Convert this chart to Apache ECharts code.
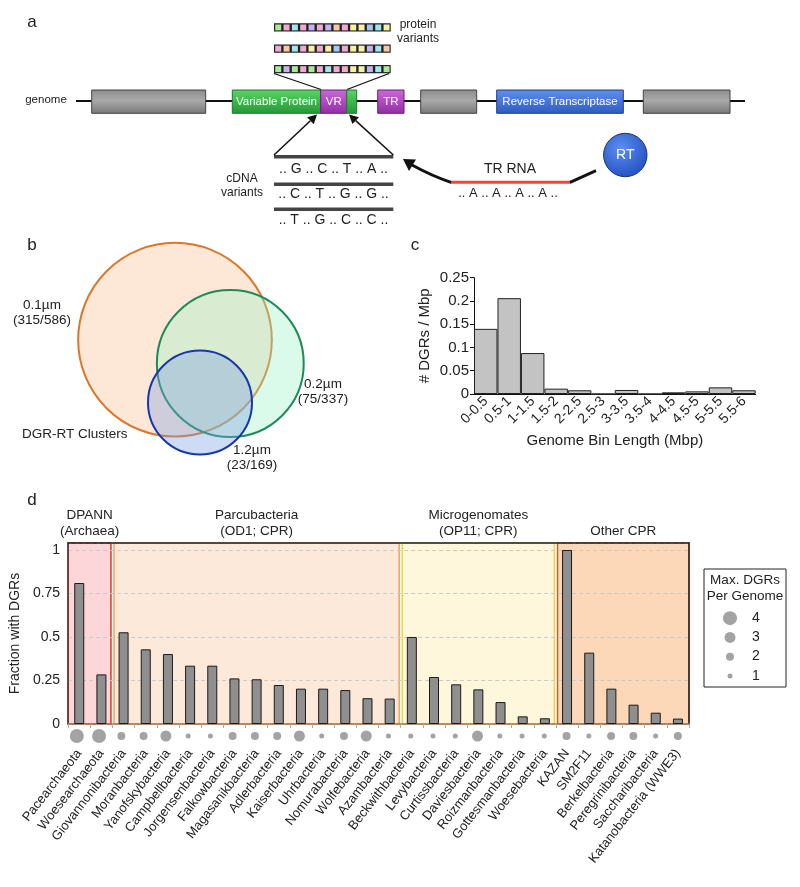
<!DOCTYPE html>
<html><head><meta charset="utf-8">
<script src="https://cdn.jsdelivr.net/npm/echarts@6/dist/echarts.min.js"></script>
<style>html,body{margin:0;padding:0;background:#fff}#c{width:800px;height:887px}</style>
</head><body><div id="c"></div>
<script>
// ---------- DATA ----------
const binLabels = ['0-0.5','0.5-1','1-1.5','1.5-2','2-2.5','2.5-3','3-3.5','3.5-4','4-4.5','4.5-5','5-5.5','5.5-6'];
const dgrPerMbp = [0.140, 0.206, 0.088, 0.0115, 0.008, 0, 0.0086, 0, 0.0036, 0.0057, 0.0143, 0.008];
const yTicksC = [0, 0.05, 0.1, 0.15, 0.2, 0.25];

const taxa = ['Pacearchaeota','Woesearchaeota','Giovannonibacteria','Moranbacteria','Yanofskybacteria','Campbellbacteria','Jorgensenbacteria','Falkowbacteria','Magasanikbacteria','Adlerbacteria','Kaiserbacteria','Uhrbacteria','Nomurabacteria','Wolfebacteria','Azambacteria','Beckwithbacteria','Levybacteria','Curtissbacteria','Daviesbacteria','Roizmanbacteria','Gottesmanbacteria','Woesebacteria','KAZAN','SM2F11','Berkelbacteria','Peregrinibacteria','Saccharibacteria','Katanobacteria (WWE3)'];
const fractionWithDGRs = [0.81, 0.285, 0.527, 0.429, 0.402, 0.335, 0.335, 0.262, 0.257, 0.224, 0.203, 0.203, 0.195, 0.148, 0.146, 0.5, 0.27, 0.228, 0.199, 0.126, 0.044, 0.033, 1.0, 0.41, 0.203, 0.111, 0.065, 0.031];
const maxDGRsPerGenome = [4,4,2,2,3,1,1,2,2,2,3,1,2,3,1, 1,1,1,3,1,1,1, 2,1,2,2,1,2];
const groupNames = ['DPANN\n(Archaea)','Parcubacteria\n(OD1; CPR)','Microgenomates\n(OP11; CPR)','Other CPR'];
const groupSizes = [2, 13, 7, 6];
const yTicksD = [0, 0.25, 0.5, 0.75, 1];
const legendValues = ['1','2','3','4'];

const vennNames = ['0.1µm','0.2µm','1.2µm'];
const vennShared = [315, 75, 23];
const vennTotal = [586, 337, 169];

// ---------- STYLE / LAYOUT ----------
const FONT = 'Arial, "Liberation Sans", Helvetica, sans-serif';
const groupFill = ['#fdd6da','#fde9da','#fff7dc','#fdd8b8'];
const groupStroke = ['#e2332a','#f2a552','#f3d046','#b5692b'];
const vennCenter = [[175,109.7],[230.3,133.5],[200,172.5]];
const vennStroke = ['#d9782a','#1e8a57','#1737a8'];
const vennFill = ['rgba(250,190,140,0.35)','rgba(150,240,195,0.35)','rgba(125,160,230,0.38)'];
const vennLabelPos = [[42,313,'center'],[323,392,'center'],[252,458,'center']];
const dotSize = v => 3*v + 2;

const chart = echarts.init(document.getElementById('c'), null, {renderer:'canvas'});

// group extents from sizes
const cum=[0]; groupSizes.forEach(s=>cum.push(cum[cum.length-1]+s));
const inset=0.07;
const groupRects = groupSizes.map((s,i)=>[cum[i]+(i>0?inset:0), cum[i+1]-(i<groupSizes.length-1?inset:0), i]);

// ---------- PANEL A (schematic) ----------
const G = [];
function txt(x,y,s,opt){G.push(Object.assign({type:'text',x,y,style:Object.assign({text:s,fill:'#222',font:'13px '+FONT,align:'center',verticalAlign:'middle'},opt||{})}));}
function grad(c1,c2,c3){return new echarts.graphic.LinearGradient(0,0,0,1,[{offset:0,color:c1},{offset:0.45,color:c2},{offset:1,color:c3}]);}
function box(x1,x2,fill,stroke,label,fs){
  G.push({type:'rect',shape:{x:x1,y:90,width:x2-x1,height:23.3},style:{fill:fill,stroke:stroke,lineWidth:1}});
  if(label) txt((x1+x2)/2,101.5,label,{fill:'#fff',font:(fs||11)+'px '+FONT});
}
txt(32,22,'a',{font:'17px '+FONT});
txt(46,100,'genome',{font:'11.5px '+FONT});
G.push({type:'line',shape:{x1:76,y1:101,x2:745,y2:101},style:{stroke:'#111',lineWidth:2}});
const gray = ()=>grad('#8c8c8c','#a9a9a9','#777');
const green = ()=>grad('#5fd36a','#3fbb4c','#26963a');
const purple = ()=>grad('#c86ad6','#b34ec4','#8f2ea3');
const blue = ()=>grad('#5f8fea','#4a78dc','#2d5bbd');
box(91.7,205.7,gray(),'#444');
box(232.3,320.7,green(),'#1d7a2e','Variable Protein',11.5);
box(320.7,346.7,purple(),'#6a1f7a','VR',11.5);
box(346.7,356.7,green(),'#1d7a2e');
box(377.7,404,purple(),'#6a1f7a','TR',11.5);
box(420.7,476.7,gray(),'#444');
box(496.7,623.3,blue(),'#1f3f8f','Reverse Transcriptase',11.5);
box(643.3,730,gray(),'#444');
// protein variants
const sq = {g:'#a9e896',p:'#f4a9d2',c:'#a2e7f0',u:'#c4b2f2',o:'#f8c9a2',y:'#f7f1a3',b:'#a9c6f2'};
const rows = [['g','p','c','p','u','p','u','o','p','y','y','b','c','y'],
              ['p','o','c','p','y','p','y','b','p','y','y','u','c','o'],
              ['g','u','g','p','g','p','c','p','p','y','y','u','c','g']];
const rowY=[23.3,44.5,65];
rows.forEach((r,ri)=>{
  G.push({type:'rect',shape:{x:274,y:rowY[ri],width:116.7,height:8.3},style:{fill:'#222'}});
  r.forEach((k,i)=>{G.push({type:'rect',shape:{x:274+i*8.336+1.2,y:rowY[ri]+1.2,width:6,height:5.9},style:{fill:sq[k]}});});
});
G.push({type:'line',shape:{x1:274,y1:73.5,x2:321,y2:89.5},style:{stroke:'#111',lineWidth:1.3}});
G.push({type:'line',shape:{x1:389,y1:73.5,x2:347,y2:89.5},style:{stroke:'#111',lineWidth:1.3}});
txt(418,25,'protein',{font:'12px '+FONT});
txt(418,39,'variants',{font:'12px '+FONT});
// cDNA
[155,182.5,207.5].forEach(y=>G.push({type:'rect',shape:{x:274,y:y,width:119.3,height:3.4},style:{fill:'#444'}}));
txt(333.5,169.5,'.. G .. C .. T .. A ..',{font:'14px '+FONT});
txt(333.5,194.5,'.. C .. T .. G .. G ..',{font:'14px '+FONT});
txt(333.5,220,'.. T .. G .. C .. C ..',{font:'14px '+FONT});
txt(242,179,'cDNA',{font:'12px '+FONT});
txt(242,192.5,'variants',{font:'12px '+FONT});
// arrows
G.push({type:'line',shape:{x1:274,y1:155,x2:310.4,y2:120.7},style:{stroke:'#111',lineWidth:1.5}});
G.push({type:'polygon',shape:{points:[[317,114.5],[313.8,124.2],[307.1,117.2]]},style:{fill:'#111'}});
G.push({type:'line',shape:{x1:393.3,y1:155,x2:355.7,y2:120.6},style:{stroke:'#111',lineWidth:1.5}});
G.push({type:'polygon',shape:{points:[[349,114.5],[359,117.3],[352.4,124]]},style:{fill:'#111'}});
// TR RNA
G.push({type:'line',shape:{x1:450,y1:182.3,x2:571,y2:182.3},style:{stroke:'#f0473a',lineWidth:3}});
G.push({type:'line',shape:{x1:570,y1:182.3,x2:596,y2:170.7},style:{stroke:'#111',lineWidth:3}});
G.push({type:'bezierCurve',shape:{x1:451,y1:182.3,cpx1:432,cpy1:176,x2:412,y2:165},style:{stroke:'#111',lineWidth:3,fill:null}});
G.push({type:'polygon',shape:{points:[[403,159],[416,159.5],[409,171]]},style:{fill:'#111'}});
txt(510,169,'TR RNA',{font:'14px '+FONT});
txt(508,193,'.. A .. A .. A .. A ..',{font:'13px '+FONT});
G.push({type:'circle',shape:{cx:625.3,cy:155,r:21.7},style:{fill:new echarts.graphic.RadialGradient(0.4,0.35,0.7,[{offset:0,color:'#5a8ff0'},{offset:1,color:'#2350c0'}]),stroke:'#1a2f70',lineWidth:1}});
txt(625.3,155,'RT',{fill:'#fff',font:'14px '+FONT});

// ---------- PANEL LETTERS / VENN LABELS ----------
txt(32,245,'b',{font:'17px '+FONT});
txt(415,245,'c',{font:'17px '+FONT});
txt(32,500,'d',{font:'17px '+FONT});
vennNames.forEach((n,i)=>{
  const p=vennLabelPos[i];
  G.push({type:'text',x:p[0],y:p[1],style:{text:n+'\n('+vennShared[i]+'/'+vennTotal[i]+')',fill:'#222',font:'13.5px '+FONT,align:p[2],verticalAlign:'middle',lineHeight:15.5}});
});
txt(22,434,'DGR-RT Clusters',{font:'13.5px '+FONT,align:'left'});
// legend box
G.push({type:'rect',shape:{x:704,y:569,width:82,height:118},style:{fill:'#fff',stroke:'#222',lineWidth:1}});
txt(745,580.5,'Max. DGRs',{font:'13.5px '+FONT});
txt(745,596,'Per Genome',{font:'13.5px '+FONT});

const axisText = {color:'#222',fontFamily:FONT};

const option = {
  animation:false,
  backgroundColor:'#fff',
  graphic:{elements:G},
  grid:[
    {left:474,top:277.7,width:281.7,height:116.3},
    {left:65.7,top:543,width:623.3,height:181},
    {left:65.7,top:728,width:623.3,height:16},
    {left:722,top:608.5,width:16,height:77},
    {left:0,top:230,width:400,height:230}
  ],
  xAxis:[
    {gridIndex:0,type:'category',data:binLabels,axisLine:{lineStyle:{color:'#111',width:1}},axisTick:{show:false},
     axisLabel:Object.assign({rotate:45,fontSize:14,margin:5,interval:0},axisText),
     name:'Genome Bin Length (Mbp)',nameLocation:'middle',nameGap:39,nameTextStyle:Object.assign({fontSize:15},axisText)},
    {gridIndex:1,type:'category',data:taxa,axisLine:{lineStyle:{color:'#a0785a',width:1.5}},
     axisTick:{show:true,length:4,lineStyle:{color:'#aaa'}},
     axisLabel:Object.assign({rotate:52,fontSize:13,margin:27,interval:0},axisText)},
    {gridIndex:1,type:'value',min:0,max:groupSizes.reduce((a,b)=>a+b,0),show:false},
    {gridIndex:1,type:'category',data:taxa,position:'top',axisLine:{lineStyle:{color:'#222',width:1.5}},axisTick:{show:false},axisLabel:{show:false}},
    {gridIndex:2,type:'category',data:taxa,show:false},
    {gridIndex:3,type:'value',min:0,max:1,show:false},
    {gridIndex:4,type:'value',min:0,max:400,show:false}
  ],
  yAxis:[
    {gridIndex:0,type:'value',min:0,max:0.25,interval:0.05,axisLine:{show:true,lineStyle:{color:'#111'}},
     axisTick:{show:true,length:4,lineStyle:{color:'#111'}},splitLine:{show:false},
     axisLabel:Object.assign({fontSize:15,margin:5},axisText),
     name:'# DGRs / Mbp',nameLocation:'middle',nameGap:42,nameRotate:90,nameTextStyle:Object.assign({fontSize:15},axisText)},
    {gridIndex:1,type:'value',min:0,max:1.04,interval:0.25,axisLine:{show:true,lineStyle:{color:'#4a3030',width:1.5}},
     axisTick:{show:false},splitLine:{show:true,lineStyle:{color:'#c9c9c9',type:[4,3],width:1}},
     axisLabel:Object.assign({fontSize:14,margin:8,formatter:v=>yTicksD.some(t=>Math.abs(t-v)<1e-9)?String(v):''},axisText),
     name:'Fraction with DGRs',nameLocation:'middle',nameGap:40,nameRotate:90,nameTextStyle:Object.assign({fontSize:14},axisText)},
    {gridIndex:1,type:'value',min:0,max:1.04,position:'right',axisLine:{show:true,lineStyle:{color:'#222',width:1.5}},axisTick:{show:false},axisLabel:{show:false},splitLine:{show:false}},
    {gridIndex:2,type:'value',min:0,max:1,show:false},
    {gridIndex:3,type:'category',data:legendValues,position:'right',axisLine:{show:false},axisTick:{show:false},
     axisLabel:Object.assign({fontSize:14,margin:14,align:'left'},axisText)},
    {gridIndex:4,type:'value',min:0,max:230,inverse:true,show:false}
  ],
  series:[
    {type:'bar',xAxisIndex:0,yAxisIndex:0,data:dgrPerMbp,barCategoryGap:'0%',
     itemStyle:{color:'#c3c3c3',borderColor:'#222',borderWidth:1}},
    {type:'custom',xAxisIndex:2,yAxisIndex:1,z:-1,clip:false,data:groupRects,
     renderItem:(params,api)=>{
       const s=api.value(0),e=api.value(1),gi=api.value(2);
       const p0=api.coord([s,1.04]),p1=api.coord([e,0]);
       return {type:'group',children:[
         {type:'rect',shape:{x:p0[0],y:p0[1],width:p1[0]-p0[0],height:p1[1]-p0[1]},style:{fill:groupFill[gi],stroke:groupStroke[gi],lineWidth:1.5}},
         {type:'text',x:(p0[0]+p1[0])/2,y:p0[1]-4,style:{text:groupNames[gi],fill:'#222',font:'13.5px '+FONT,align:'center',verticalAlign:'bottom',lineHeight:16}}
       ]};
     }},
    {type:'bar',xAxisIndex:1,yAxisIndex:1,data:fractionWithDGRs,barWidth:10,
     itemStyle:{color:'#8f8f8f',borderColor:'#1a1a1a',borderWidth:1}},
    {type:'scatter',xAxisIndex:4,yAxisIndex:3,data:maxDGRsPerGenome.map((v,i)=>[i,0.5,v]),
     symbolSize:d=>dotSize(d[2]),itemStyle:{color:'#a3a3a3',opacity:1}},
    {type:'scatter',xAxisIndex:5,yAxisIndex:4,data:legendValues.map(v=>[0.5,v]),
     symbolSize:d=>dotSize(+d[1]),itemStyle:{color:'#a3a3a3',opacity:1}},
    {type:'custom',xAxisIndex:6,yAxisIndex:5,clip:false,data:vennTotal.map((t,i)=>[vennCenter[i][0],vennCenter[i][1],t,i]),
     renderItem:(params,api)=>{
       const c=api.coord([api.value(0),api.value(1)]);
       const r=api.size([4.0*Math.sqrt(api.value(2)),0])[0];
       const i=api.value(3);
       return {type:'circle',shape:{cx:c[0],cy:c[1],r:r},style:{fill:vennFill[i],stroke:vennStroke[i],lineWidth:2}};
     }}
  ]
};
chart.setOption(option);
</script></body></html>
